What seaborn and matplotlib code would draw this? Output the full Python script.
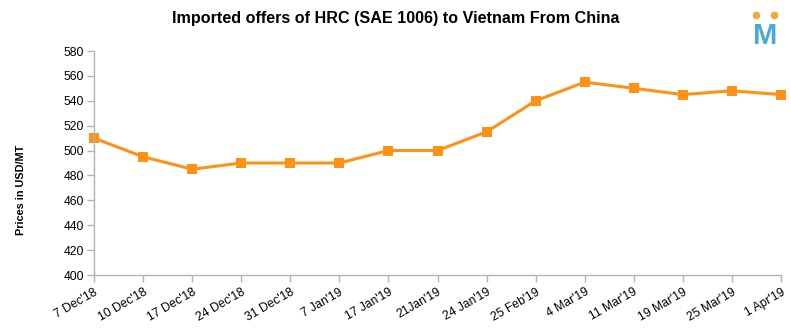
import matplotlib
matplotlib.use("Agg")
import matplotlib.pyplot as plt
from matplotlib.lines import Line2D
import seaborn as sns
import pandas as pd

dates = ["7 Dec'18", "10 Dec'18", "17 Dec'18", "24 Dec'18", "31 Dec'18", "7 Jan'19",
         "17 Jan'19", "21Jan'19", "24 Jan'19", "25 Feb'19", "4 Mar'19", "11 Mar'19",
         "19 Mar'19", "25 Mar'19", "1 Apr'19"]
prices = [510, 495, 485, 490, 490, 490, 500, 500, 515, 540, 555, 550, 545, 548, 545]
y_ticks = [400, 420, 440, 460, 480, 500, 520, 540, 560, 580]

sns.set_theme(style="white")
plt.rcParams['font.family'] = ['Liberation Sans', 'DejaVu Sans']
plt.rcParams['text.color'] = 'black'
plt.rcParams['xtick.color'] = 'black'
plt.rcParams['ytick.color'] = 'black'

df = pd.DataFrame({"idx": range(len(dates)), "price": prices})

fig = plt.figure(figsize=(7.91, 3.29), dpi=100)
ax = fig.add_axes([94/791, 1-275/329, (781-94)/791, (275-51)/329])
color = "#FF9214"
sns.lineplot(data=df, x="idx", y="price", ax=ax, color=color, linewidth=2.2,
             marker="s", markersize=7.5, markeredgewidth=0, markerfacecolor=color)
for ln in ax.lines:
    ln.set_clip_on(False)

ax.set_xlim(0, len(dates) - 1)
ax.set_ylim(400, 580)
ax.set_yticks(y_ticks)
ax.set_xticks(range(len(dates)))
ax.set_xticklabels(dates, rotation=30, ha="right", rotation_mode="anchor", fontsize=8.7)
ax.tick_params(axis="y", labelsize=8.7, length=5, color="#b3b3b3", width=1, left=True, pad=2,
               labelcolor="black")
ax.tick_params(axis="x", length=5, color="#b3b3b3", width=1, bottom=True, pad=3,
               labelcolor="black")
for s in ["top", "right"]:
    ax.spines[s].set_visible(False)
for s in ["left", "bottom"]:
    ax.spines[s].set_color("#b3b3b3")
    ax.spines[s].set_linewidth(1)
ax.set_xlabel("")
ax.set_ylabel("")
fig.text(21/791, 1-190/329, "Prices in USD/MT", rotation=90, ha="center", va="center",
         fontsize=7.8, fontweight="bold", color="black")

fig.text(0.5, 1-19/329, "Imported offers of HRC (SAE 1006) to Vietnam From China",
         ha="center", va="center", fontsize=11.6, fontweight="bold", color="black")

# logo
fig.text(765/791, 1-33/329, "M", ha="center", va="center_baseline", fontsize=21,
         fontweight="bold", color="#4AAAD6")
fig.add_artist(Line2D([756/791, 774/791], [1-15/329, 1-15/329], transform=fig.transFigure,
                      linestyle="none", marker="o", markersize=5.5, markeredgewidth=0,
                      markerfacecolor="#F5A83A"))

fig.savefig("out.png", dpi=100)
